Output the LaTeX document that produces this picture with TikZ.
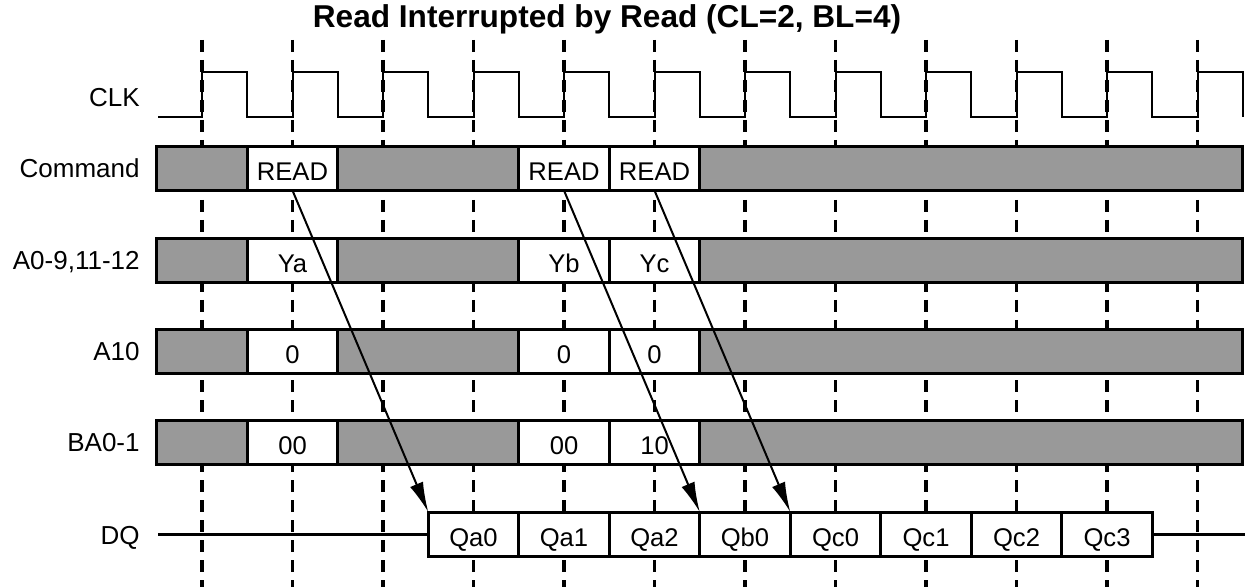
\documentclass[tikz,border=0pt]{standalone}
\usepackage{fontspec}
\setmainfont{Liberation Sans}
\usetikzlibrary{positioning,arrows.meta}

\definecolor{busgray}{RGB}{153,153,153}
\tikzset{
  signame/.style={anchor=base east, inner sep=0pt, font=\fontsize{13pt}{15pt}\selectfont},
  slot/.style={draw, line width=1.5pt, fill=busgray, outer sep=0pt, inner sep=0pt,
    minimum height=22pt, minimum width=#1},
  slot/.default=45.25pt,
  word/.style={slot, fill=white, text height=12pt, text depth=0pt,
    font=\fontsize{12.8pt}{14pt}\selectfont},
  clkline/.style={line width=1pt},
  tick/.style={line width=1.6pt, dash pattern=on 6pt off 4pt},
  latency/.style={line width=1pt, -{Latex[length=15pt,width=7pt]}}
}

\begin{document}
\begin{tikzpicture}[x=0.5pt, y=-0.5pt]
  \useasboundingbox (0,0) rectangle (1246,587);

  % clock edges
  \foreach \i in {0,...,11}
    \draw[tick] ({202+90.5*\i},40) -- ({202+90.5*\i},587);

  \node[font=\bfseries\fontsize{15.8pt}{18pt}\selectfont, anchor=base, inner sep=0pt] (title)
    at (607,28) {Read Interrupted by Read (CL=2, BL=4)};

  % CLK
  \node[signame] (lclk) at (140,107) {CLK};
  \draw[clkline] (158,117) foreach \i in {0,...,11} {
    -- ({202+90.5*\i},117) -- ++(0,-45) -- ++(45.25,0) -- ++(0,45) };

  % bus rows
  \foreach \y/\row/\lbl/\a/\b/\c in {168.5/cmd/Command/READ/READ/READ,
      260.5/adr/{A0-9,11-12}/Ya/Yb/Yc, 351.5/ap/A10/0/0/0, 442.5/ba/BA0-1/00/00/10} {
    \node[signame] (l\row) at (140,\y+9) {\lbl};
    \node[slot, anchor=west] (\row0) at (156.75,\y) {};
    \node[word, right=0pt of \row0] (\row1) {\a};
    \node[slot=90.5pt, right=0pt of \row1] (\row2) {};
    \node[word, right=0pt of \row2] (\row3) {\b};
    \node[word, right=0pt of \row3] (\row4) {\c};
    \node[slot=271.5pt, right=0pt of \row4] (\row5) {};
  }

  % DQ
  \node[signame] (ldq) at (140,544) {DQ};
  \coordinate (dqin) at (158,534);
  \coordinate (dqout) at (1245,534);
  \foreach \t [count=\k from 0] in {Qa0,Qa1,Qa2,Qb0,Qc0,Qc1,Qc2,Qc3}
    \node[word] (dq\k) at ({473.5+90.5*\k},534) {\t};
  \draw[line width=1.5pt] (dqin) -- (dq0.west);
  \draw[line width=1.5pt] (dq7.east) -- (dqout);

  % read latency
  \draw[latency] (cmd1.south) -- (dq0.north west);
  \draw[latency] (cmd3.south) -- (dq3.north west);
  \draw[latency] (cmd4.south) -- (dq4.north west);
\end{tikzpicture}
\end{document}
